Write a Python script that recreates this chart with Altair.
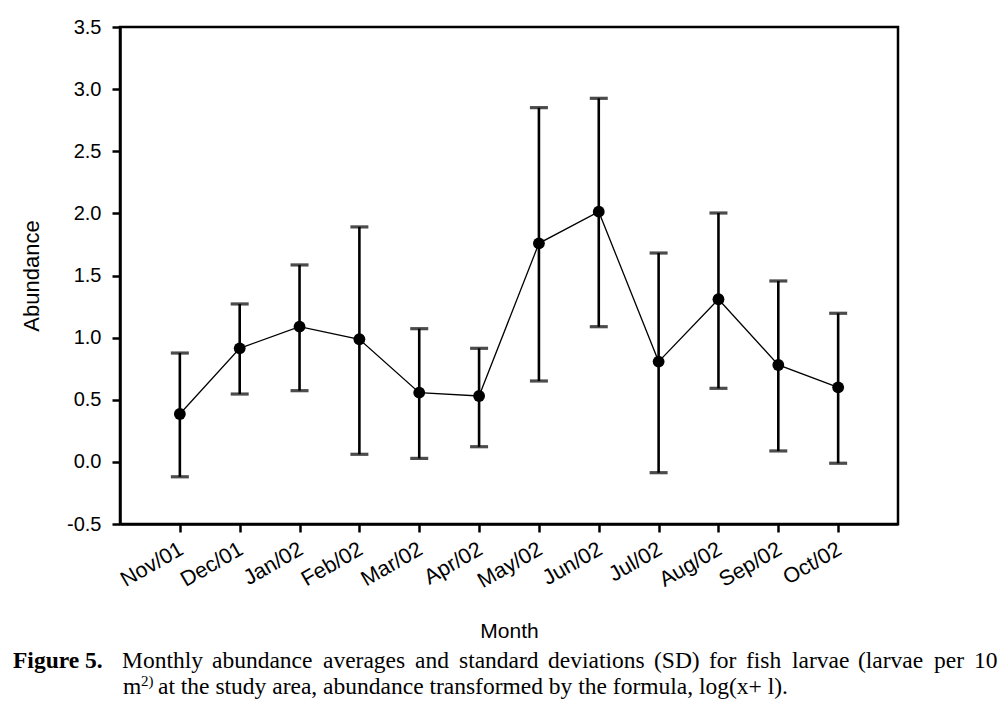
import altair as alt
import pandas as pd

months = ["Nov/01", "Dec/01", "Jan/02", "Feb/02", "Mar/02", "Apr/02",
          "May/02", "Jun/02", "Jul/02", "Aug/02", "Sep/02", "Oct/02"]
mean = [0.385, 0.914, 1.088, 0.987, 0.557, 0.530, 1.759, 2.014, 0.807, 1.309, 0.780, 0.600]
upper = [0.876, 1.271, 1.585, 1.891, 1.072, 0.914, 2.851, 2.926, 1.681, 2.003, 1.456, 1.196]
lower = [-0.120, 0.546, 0.573, 0.061, 0.028, 0.122, 0.651, 1.088, -0.087, 0.592, 0.088, -0.011]
y_ticks = [-0.5, 0.0, 0.5, 1.0, 1.5, 2.0, 2.5, 3.0, 3.5]

# caption text (justified first line split into words)
caption_bold = "Figure 5."
caption_line1 = ["Monthly", "abundance", "averages", "and", "standard", "deviations",
                 "(SD)", "for", "fish", "larvae", "(larvae", "per", "10"]
caption_line1_x = [122, 212, 323, 415, 459, 548, 654, 709, 746, 792, 858, 934, 974]
caption_line2_a = "m"
caption_line2_sup = "2)"
caption_line2_b = "at the study area, abundance transformed by the formula, log(x+ l)."

df = pd.DataFrame({"month": months, "mean": mean, "upper": upper, "lower": lower})

W, H = 778, 497
OX, OY = 120, 27  # plot origin on page (for caption annotation)

xenc = alt.X("month:N", sort=months, scale=alt.Scale(type="point", padding=1),
             title="Month",
             axis=alt.Axis(labelAngle=330, labelAlign="right", labelBaseline="top",
                           labelPadding=6, labelOffset=-4, tickSize=8, tickWidth=2.5,
                           domainWidth=2.5, labelFontSize=21.5, titleFontSize=21,
                           titlePadding=29, titleFontWeight="normal", grid=False))
yscale = alt.Scale(domain=[-0.5, 3.5], nice=False, zero=False)
yaxis = alt.Axis(values=y_ticks, labelExpr="replace(format(datum.value, '.1f'), '\u2212', '-')",
                 tickSize=8, tickWidth=2.5, domainWidth=2.5, labelFontSize=20,
                 labelPadding=11, titleFontSize=22, titlePadding=23,
                 titleFontWeight="normal", grid=False)

base = alt.Chart(df)

rules = base.mark_rule(color="black", strokeWidth=2.6).encode(
    x=xenc,
    y=alt.Y("lower:Q", scale=yscale, axis=yaxis, title="Abundance"),
    y2="upper:Q",
)
cap_hi = base.mark_tick(color="black", size=18, thickness=3.2).encode(
    x=xenc, y=alt.Y("upper:Q", scale=yscale, title="Abundance"))
cap_lo = base.mark_tick(color="black", size=18, thickness=3.2).encode(
    x=xenc, y=alt.Y("lower:Q", scale=yscale, title="Abundance"))
line = base.mark_line(color="black", strokeWidth=1.3).encode(
    x=xenc, y=alt.Y("mean:Q", scale=yscale, title="Abundance"))
pts = base.mark_circle(color="black", opacity=1, size=140).encode(
    x=xenc, y=alt.Y("mean:Q", scale=yscale, title="Abundance"))

layers = [rules, cap_hi, cap_lo, line, pts]


def cap_text(txt, px, py, size=23.5, bold=False):
    return alt.Chart(pd.DataFrame({"t": [txt]})).mark_text(
        text=txt, font="Liberation Serif", fontSize=size,
        fontWeight="bold" if bold else "normal", align="left",
        baseline="alphabetic", color="black",
    ).encode(x=alt.value(px - OX), y=alt.value(py - OY))


layers.append(cap_text(caption_bold, 13, 668, bold=True))
for w, xx in zip(caption_line1, caption_line1_x):
    layers.append(cap_text(w, xx, 668))
layers.append(cap_text(caption_line2_a, 123, 694))
layers.append(cap_text(caption_line2_sup, 141, 686, size=15))
layers.append(cap_text(caption_line2_b, 158, 694))

chart = alt.layer(*layers).properties(
    width=W, height=H,
    background="white",
    autosize=alt.AutoSizeParams(type="none"),
    padding={"left": 112, "top": 19, "right": 102, "bottom": 175},
).configure_view(
    stroke="black", strokeWidth=2.5
).configure_axis(
    labelFont="Liberation Sans", titleFont="Liberation Sans",
    labelColor="black", titleColor="black", domainColor="black", tickColor="black",
    titleFontWeight="normal",
)

chart.save("out.html", embed_options={"renderer": "svg", "actions": False})
